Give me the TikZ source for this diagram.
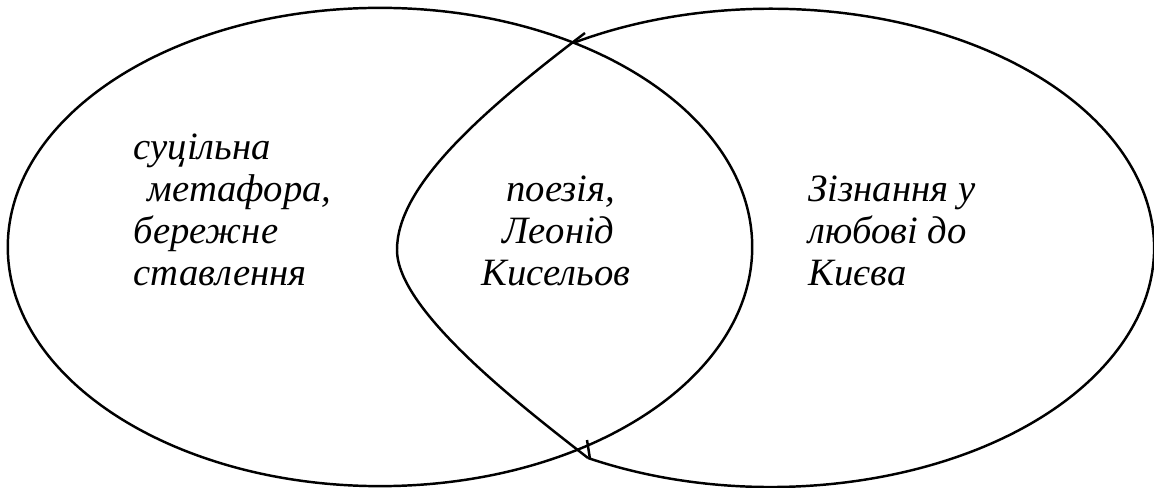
\documentclass[tikz,border=0pt]{standalone}
\usepackage{fontspec}
\setmainfont{Liberation Serif}
\begin{document}
\begin{tikzpicture}[x=0.01cm,y=0.01cm,
  outline/.style={draw=black,line width=0.7pt},
  label/.style={inner sep=0pt,anchor=base west,align=left,
    font=\fontsize{11pt}{12pt}\selectfont\itshape}]
\useasboundingbox (0,0) rectangle (1154,-488);
% left ellipse
\draw[outline] (380,-247) ellipse [x radius=3.72cm, y radius=2.39cm];
% right shape
\draw[outline] (588,-458) arc[start angle=241.5, end angle=480.9, x radius=3.83cm, y radius=2.39cm];
\draw[outline] (585,-33) .. controls (470,-120) and (397,-190) .. (397,-250)
  .. controls (397,-310) and (520,-405) .. (588,-458);
\draw[outline] (587,-440) -- (590,-459);
% texts (base anchor = baseline of the last line)
\node[label] (left) at (133,-286) {суцільна\\\hspace*{4pt}метафора,\\бережне\\ставлення};
\node[label] (mid) at (481,-286) {\hspace*{7pt}поезія,\\\hspace*{6pt}Леонід\\Кисельов};
\node[label] (right) at (808,-286) {Зізнання у\\любові до\\Києва};
\end{tikzpicture}
\end{document}
